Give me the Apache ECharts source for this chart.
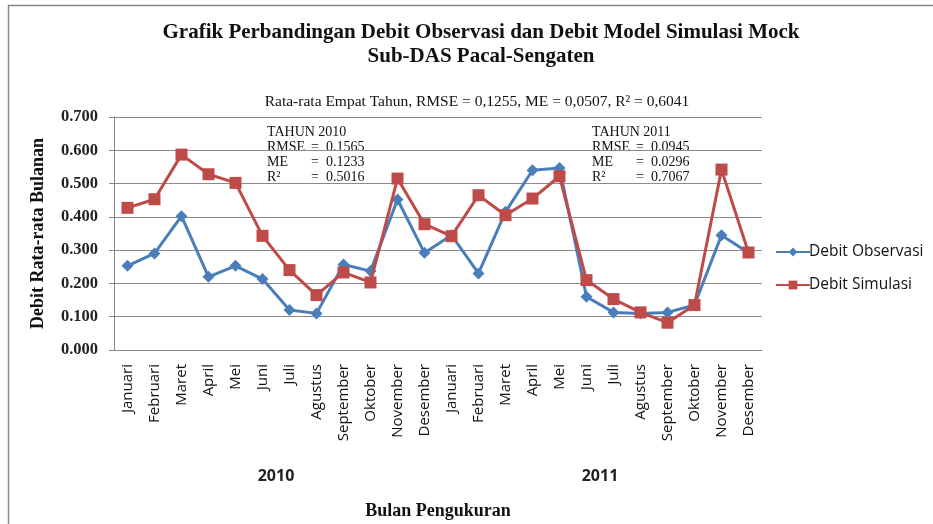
<!DOCTYPE html>
<html>
<head>
<meta charset="utf-8">
<script src="https://cdn.jsdelivr.net/npm/echarts@6/dist/echarts.min.js"></script>
<style>
  html, body { margin: 0; padding: 0; background: #fff; }
  #chart { width: 933px; height: 524px; }
</style>
</head>
<body>
<div id="chart"></div>
<script>
// Monthly categories for the two observation years
const months = ['Januari', 'Februari', 'Maret', 'April', 'Mei', 'Juni', 'Juli',
  'Agustus', 'September', 'Oktober', 'November', 'Desember'];
const categories = months.concat(months);
const years = ['2010', '2011'];

// Mean monthly discharge (observed vs. Mock model simulation)
const debitObservasi = [
  0.253, 0.290, 0.402, 0.220, 0.253, 0.213, 0.120, 0.110, 0.257, 0.237, 0.452, 0.292,
  0.345, 0.230, 0.415, 0.540, 0.547, 0.160, 0.113, 0.110, 0.113, 0.135, 0.345, 0.292
];
const debitSimulasi = [
  0.427, 0.453, 0.587, 0.528, 0.502, 0.343, 0.240, 0.165, 0.233, 0.203, 0.515, 0.378,
  0.342, 0.465, 0.405, 0.455, 0.522, 0.210, 0.153, 0.113, 0.082, 0.135, 0.542, 0.293
];

// Y-axis range and step
const yMin = 0, yMax = 0.7, yStep = 0.1;

// Per-year goodness-of-fit statistics
const statLabels = ['RMSE', 'ME', 'R²'];
const stats2010 = ['0.1565', '0.1233', '0.5016'];
const stats2011 = ['0.0945', '0.0296', '0.7067'];

const serif = '"Liberation Serif", "Times New Roman", serif';
const sans = '"Open Sans", "Liberation Sans", sans-serif';

const chart = echarts.init(document.getElementById('chart'), null, { renderer: 'canvas' });

// White box holding one year's statistics
function statBox(x, y, year, values) {
  const font = '14px ' + serif;
  const children = [
    { type: 'rect', shape: { x: 0, y: 0, width: 128, height: 58 }, style: { fill: '#fff' } },
    { type: 'text', x: 13, y: 1, style: { text: 'TAHUN ' + year, font: font, fill: '#111' } }
  ];
  statLabels.forEach((lab, i) => {
    children.push({ type: 'text', x: 13, y: 16 + i * 15, style: { text: lab, font: font, fill: '#111' } });
    children.push({ type: 'text', x: 57, y: 16 + i * 15, style: { text: '=  ' + values[i], font: font, fill: '#111' } });
  });
  return { type: 'group', x: x, y: y, z: 100, children: children };
}

chart.setOption({
  backgroundColor: '#fff',
  animation: false,
  title: [
    {
      text: 'Grafik Perbandingan Debit Observasi dan Debit Model Simulasi Mock\nSub-DAS Pacal-Sengaten',
      left: 476, top: 16, textAlign: 'center',
      textStyle: { fontFamily: serif, fontWeight: 'bold', fontSize: 21, lineHeight: 24, color: '#111' }
    },
    {
      text: 'Rata-rata Empat Tahun, RMSE = 0,1255, ME = 0,0507, R² = 0,6041',
      left: 472, top: 89, textAlign: 'center',
      textStyle: { fontFamily: serif, fontWeight: 'normal', fontSize: 15.5, color: '#111' }
    }
  ],
  legend: {
    orient: 'vertical',
    left: 770, top: 239,
    itemWidth: 34, itemHeight: 11, itemGap: 17,
    textStyle: { fontFamily: sans, fontSize: 15.5, color: '#111', padding: [0, 0, 0, -6] },
    data: ['Debit Observasi', 'Debit Simulasi']
  },
  grid: { left: 114, right: 171, top: 117, bottom: 174 },
  xAxis: [
    {
      type: 'category',
      data: categories,
      boundaryGap: true,
      axisLine: { lineStyle: { color: '#888', width: 1 } },
      axisTick: { interval: 0, length: 102, lineStyle: { color: '#aaa' } },
      axisLabel: { interval: 0, rotate: 90, margin: 14, fontFamily: sans, fontSize: 15, color: '#111' },
      splitLine: { show: false }
    },
    {
      type: 'category',
      data: years,
      position: 'bottom',
      boundaryGap: true,
      axisLine: { show: false },
      axisTick: { interval: 0, length: 147, lineStyle: { color: '#aaa' } },
      axisLabel: { margin: 118, fontFamily: sans, fontSize: 16, fontWeight: 'bold', color: '#222' },
      name: 'Bulan Pengukuran',
      nameLocation: 'middle',
      nameGap: 152,
      nameTextStyle: { fontFamily: serif, fontWeight: 'bold', fontSize: 18, color: '#111' },
      splitLine: { show: false }
    }
  ],
  yAxis: {
    type: 'value',
    min: yMin, max: yMax, interval: yStep,
    name: 'Debit Rata-rata Bulanan',
    nameLocation: 'middle',
    nameGap: 67,
    nameTextStyle: { fontFamily: serif, fontWeight: 'bold', fontSize: 18, color: '#111' },
    axisLine: { show: true, lineStyle: { color: '#888' } },
    axisTick: { show: true, length: 5, lineStyle: { color: '#888' } },
    axisLabel: {
      margin: 16, fontFamily: serif, fontWeight: 'bold', fontSize: 16.5, color: '#222',
      formatter: v => v.toFixed(3)
    },
    splitLine: { lineStyle: { color: '#8a8a8a', width: 1 } }
  },
  series: [
    {
      name: 'Debit Observasi',
      type: 'line',
      data: debitObservasi,
      symbol: 'diamond', symbolSize: 12,
      lineStyle: { color: '#4A7EBB', width: 3 },
      itemStyle: { color: '#4A7EBB' },
      z: 3
    },
    {
      name: 'Debit Simulasi',
      type: 'line',
      data: debitSimulasi,
      symbol: 'rect', symbolSize: 12,
      lineStyle: { color: '#BE4B48', width: 3 },
      itemStyle: { color: '#BE4B48' },
      z: 4
    }
  ],
  graphic: [
    {
      type: 'polyline', z: 0, silent: true,
      shape: { points: [[8.5, 530], [8.5, 5.5], [940, 5.5]] },
      style: { stroke: '#888', lineWidth: 1.5, fill: null }
    },
    statBox(254, 124, '2010', stats2010),
    statBox(579, 124, '2011', stats2011)
  ]
});
</script>
</body>
</html>
